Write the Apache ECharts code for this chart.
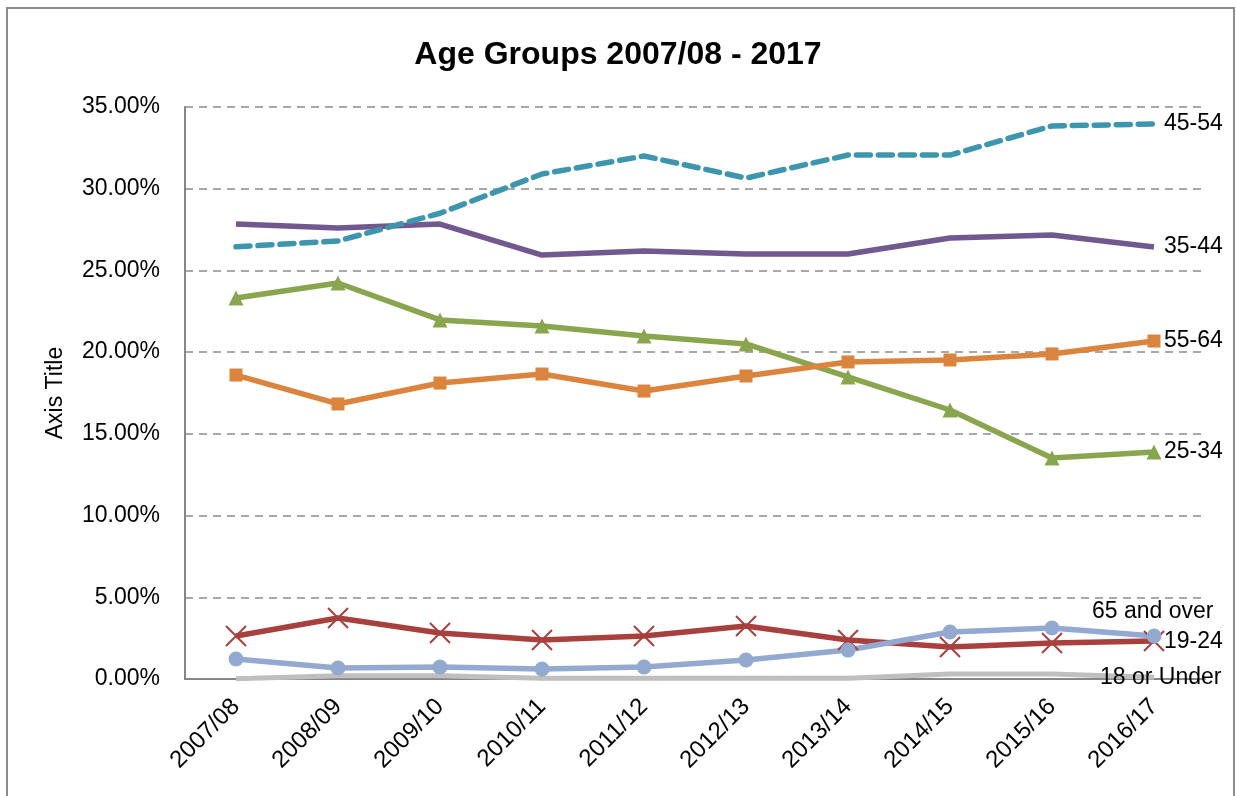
<!DOCTYPE html>
<html>
<head>
<meta charset="utf-8">
<script src="https://cdn.jsdelivr.net/npm/echarts@6/dist/echarts.min.js"></script>
<style>
html,body{margin:0;padding:0;background:#fff;}
#frame{position:absolute;left:6px;top:7px;width:1229px;height:800px;border:2px solid #8c8c8c;border-bottom:none;box-sizing:border-box;}
#chart{position:absolute;left:0;top:0;width:1236px;height:796px;}
</style>
</head>
<body>
<div id="frame"></div>
<div id="chart"></div>
<script>
const categories = ['2007/08','2008/09','2009/10','2010/11','2011/12','2012/13','2013/14','2014/15','2015/16','2016/17'];
const yTicks = [0,5,10,15,20,25,30,35];
const under18 = [0.02,0.2,0.2,0.05,0.05,0.04,0.04,0.3,0.3,0.1];
const age19_24 = [2.63,3.73,2.81,2.39,2.63,3.24,2.39,1.96,2.2,2.33];
const age25_34 = [23.31,24.23,21.97,21.6,20.99,20.5,18.48,16.46,13.52,13.89];
const age35_44 = [27.84,27.6,27.84,25.94,26.19,26.0,26.0,26.98,27.17,26.43];
const age45_54 = [26.45,26.8,28.5,30.9,32.0,30.65,32.06,32.06,33.84,33.96];
const age55_64 = [18.6,16.83,18.11,18.66,17.62,18.54,19.4,19.52,19.89,20.68];
const age65plus = [1.22,0.67,0.73,0.61,0.73,1.16,1.77,2.88,3.12,2.63];

const FONT = '"Liberation Sans", Arial, sans-serif';
const LBL = 23;
const crossPath = 'path://M0,0L10,10M10,0L0,10';

function endLbl(name, offset, dist) {
  return {show:true, formatter:name, color:'#000', fontSize:LBL, fontFamily:FONT,
          distance: dist==null?10:dist, offset: offset||[0,0]};
}

const chart = echarts.init(document.getElementById('chart'));
chart.setOption({
  animation:false,
  backgroundColor:'transparent',
  title:{text:'Age Groups 2007/08 - 2017', left:'center', top:34,
    textStyle:{fontFamily:FONT, fontSize:32, fontWeight:'bold', color:'#000'}},
  grid:{left:185, right:31, top:107, bottom:117, containLabel:false},
  xAxis:{type:'category', data:categories, boundaryGap:true,
    axisLine:{lineStyle:{color:'#868686', width:2}},
    axisTick:{show:false},
    axisLabel:{rotate:45, color:'#000', fontSize:LBL+1, fontFamily:FONT, margin:24}},
  yAxis:{type:'value', min:yTicks[0], max:yTicks[yTicks.length-1], interval:5,
    name:'Axis Title', nameLocation:'middle', nameGap:118, nameRotate:90,
    nameTextStyle:{color:'#000', fontSize:LBL, fontFamily:FONT},
    axisLine:{show:true, lineStyle:{color:'#868686', width:2}},
    axisTick:{show:false},
    axisLabel:{color:'#000', fontSize:LBL, fontFamily:FONT, margin:25,
      formatter:v=>v.toFixed(2)+'%'},
    splitLine:{show:true, lineStyle:{color:'#8c8c8c', width:1.5, type:[8,6]}}},
  series:[
    {name:'18 or Under', type:'line', data:under18, symbol:'none',
      lineStyle:{color:'#bfbfbf', width:5}, itemStyle:{color:'#bfbfbf'},
      endLabel:endLbl('18 or Under',[-64,0])},
    {name:'19-24', type:'line', data:age19_24, symbol:crossPath, symbolSize:20,
      lineStyle:{color:'#a8403e', width:5.5},
      itemStyle:{color:'#a8403e', borderColor:'#a8403e', borderWidth:2},
      endLabel:endLbl('19-24',[0,1],10)},
    {name:'25-34', type:'line', data:age25_34, symbol:'triangle', symbolSize:15,
      lineStyle:{color:'#89a54e', width:5.5}, itemStyle:{color:'#89a54e'},
      endLabel:endLbl('25-34')},
    {name:'35-44', type:'line', data:age35_44, symbol:'none',
      lineStyle:{color:'#71588f', width:5.5}, itemStyle:{color:'#71588f'},
      endLabel:endLbl('35-44')},
    {name:'45-54', type:'line', data:age45_54, symbol:'none',
      lineStyle:{color:'#3d96ae', width:5.5, type:[14,8], cap:'round'}, itemStyle:{color:'#3d96ae'},
      endLabel:endLbl('45-54')},
    {name:'55-64', type:'line', data:age55_64, symbol:'rect', symbolSize:13,
      lineStyle:{color:'#db843d', width:5.5}, itemStyle:{color:'#db843d'},
      endLabel:endLbl('55-64')},
    {name:'65 and over', type:'line', data:age65plus, symbol:'circle', symbolSize:15,
      lineStyle:{color:'#93a9cf', width:5.5}, itemStyle:{color:'#93a9cf'},
      endLabel:endLbl('65 and over',[-72,-24])}
  ]
});
</script>
</body>
</html>
